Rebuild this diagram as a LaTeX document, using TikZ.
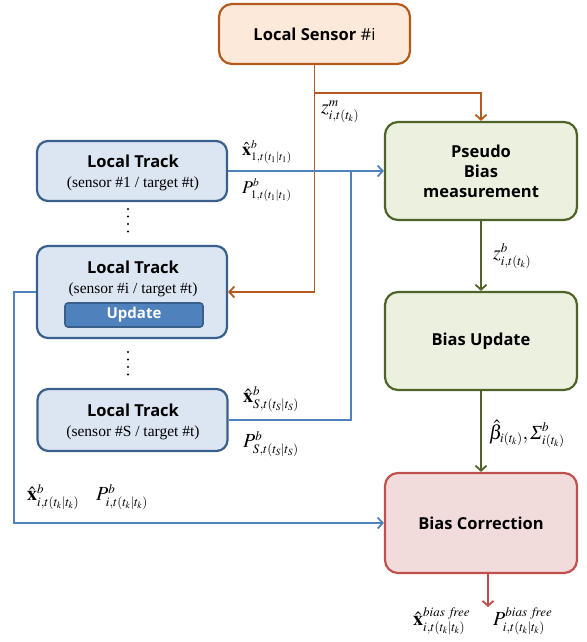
\documentclass[tikz,border=0pt]{standalone}
\usepackage{mathptmx}
\usepackage[no-math]{fontspec}
\setmainfont{Liberation Serif}
\newfontfamily\gothic{Open Sans}[BoldFont={Open Sans Bold}]
\usetikzlibrary{arrows.meta}
\DeclareMathSizes{18}{18}{11.5}{8.5}
\DeclareMathSizes{20}{20}{13}{9.5}
\definecolor{sensorfill}{HTML}{FDE9D9}
\definecolor{sensorline}{HTML}{B35A1C}
\definecolor{trackfill}{HTML}{DCE6F2}
\definecolor{trackline}{HTML}{3A5F8B}
\definecolor{blueline}{HTML}{4F81BD}
\definecolor{greenfill}{HTML}{EBF1DE}
\definecolor{greenline}{HTML}{4F6228}
\definecolor{redfill}{HTML}{F2DCDB}
\definecolor{redline}{HTML}{C0504D}
\tikzset{
  box/.style={draw, rounded corners=13pt, line width=2.2pt, align=center, inner sep=0pt,
    font=\gothic\bfseries\fontsize{16.5}{20}\selectfont},
  trackbox/.style={box, draw=trackline, fill=trackfill, rounded corners=11pt, minimum width=190pt},
  greenbox/.style={box, draw=greenline, fill=greenfill, minimum width=192pt, minimum height=98pt},
  subtxt/.style={font=\fontsize{15.5}{18}\selectfont, inner sep=0pt},
  titletxt/.style={font=\gothic\bfseries\fontsize{16.5}{20}\selectfont, inner sep=0pt},
  lab/.style={inner sep=0pt, anchor=west, font=\fontsize{20}{22}\selectfont},
  labsmall/.style={inner sep=0pt, anchor=west, font=\fontsize{18}{20}\selectfont},
  conn/.style={line width=1.8pt},
  tip/.style={-{Straight Barb[length=5pt,width=11pt]}},
  dotline/.style={line width=2.2pt, line cap=round, dash pattern=on 0pt off 7.5pt},
}
\begin{document}
\begin{tikzpicture}[x=1pt,y=-1pt]
\useasboundingbox (0,0) rectangle (586,642);

% boxes
\node[box, draw=sensorline, fill=sensorfill, minimum width=191pt, minimum height=60pt] (sensor) at (314.5,34)
  {Local Sensor {\mdseries\#i}};
\node[greenbox] (pseudo) at (481,171) {Pseudo\\Bias\\measurement};
\node[greenbox] (bupd) at (481,341) {Bias Update};
\node[box, draw=redline, fill=redfill, minimum width=192pt, minimum height=100pt] (bcorr) at (481,523) {Bias Correction};

\node[trackbox, minimum height=60pt] (track1) at (132,171) {};
\node[titletxt] (t1a) at (133,161) {Local Track};
\node[subtxt] (t1b) at (133,184) {(sensor \#1 / target \#t)};

\node[trackbox, minimum height=92pt] (tracki) at (132,292) {};
\node[titletxt] (tia) at (133,267) {Local Track};
\node[subtxt] (tib) at (133,290) {(sensor \#i / target \#t)};
\node[draw=trackline, fill=blueline, line width=1.6pt, rounded corners=3pt, minimum width=138pt, minimum height=24pt,
  inner sep=0pt, text=white, font=\gothic\bfseries\fontsize{15}{18}\selectfont] (upd) at (134,315) {Update};

\node[trackbox, minimum height=62pt] (tracks) at (132.5,420) {};
\node[titletxt] (tsa) at (133,410) {Local Track};
\node[subtxt] (tsb) at (133,433) {(sensor \#S / target \#t)};

% dots
\draw[dotline] (128,209) -- (128,237);
\draw[dotline] (128,352) -- (128,378);

% connectors
\coordinate (br) at (sensor.south |- 0,93);
\draw[conn, sensorline, tip] (sensor.south) |- (tracki.east);
\draw[conn, sensorline, tip] (br) -| (pseudo.north);

\coordinate (jn) at (351,171);
\draw[conn, blueline, tip] (track1.east) -- (pseudo.west);
\draw[conn, blueline] (tracks.east) -| (jn);

\coordinate (lft) at (14,292);
\draw[conn, blueline, tip] (tracki.west) -- (lft) |- (bcorr.west);

\draw[conn, greenline, tip] (pseudo.south) -- (bupd.north);
\draw[conn, greenline, tip] (bupd.south) -- (bcorr.north);

\coordinate (out) at (488,607);
\draw[conn, redline, tip] (bcorr.south -| out) -- (out);

% labels
\node[lab] (lzm) at (321,112) {$z^{m}_{i,t(t_k)}$};
\node[labsmall] (lx1) at (242,152) {$\hat{\mathbf{x}}^{b}_{1,t(t_1|t_1)}$};
\node[labsmall] (lp1) at (242,190) {$P^{b}_{1,t(t_1|t_1)}$};
\node[lab] (lxs) at (243,399) {$\hat{\mathbf{x}}^{b}_{S,t(t_S|t_S)}$};
\node[lab] (lps) at (243,444) {$P^{b}_{S,t(t_S|t_S)}$};
\node[lab] (lxi) at (27,497) {$\hat{\mathbf{x}}^{b}_{i,t(t_k|t_k)}$};
\node[lab] (lpi) at (96,497) {$P^{b}_{i,t(t_k|t_k)}$};
\node[lab] (lzb) at (493,256) {$z^{b}_{i,t(t_k)}$};
\node[lab] (lbs) at (489,434) {$\hat{\beta}_{i(t_k)},\mbox{\itshape Σ}^{b}_{i(t_k)}$};
\node[lab] (lxo) at (413,621) {$\hat{\mathbf{x}}^{\mathit{bias\ free}}_{i,t(t_k|t_k)}$};
\node[lab] (lpo) at (493,621) {$P^{\mathit{bias\ free}}_{i,t(t_k|t_k)}$};
\end{tikzpicture}
\end{document}
